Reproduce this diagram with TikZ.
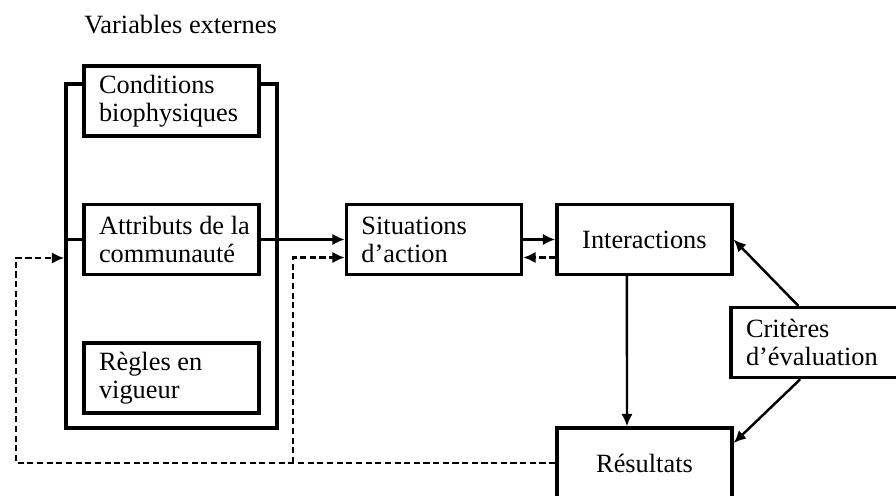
\documentclass[tikz,border=0pt]{standalone}
\usepackage{fontspec}
\setmainfont{Liberation Serif}
\usetikzlibrary{arrows.meta,positioning}

\begin{document}
\begin{tikzpicture}[
    x=0.02cm, y=-0.02cm,
    font=\fontsize{15}{16}\selectfont,
    block/.style={rectangle, draw, fill=white, line width=2pt, minimum width=3.5cm, minimum height=1.4cm, text width=2.9cm, inner xsep=0.3cm, align=flush left},
    cblock/.style={block, align=flush center},
    frame/.style={rectangle, draw, line width=2pt, minimum width=4.22cm, minimum height=6.88cm},
    line/.style={draw, line width=1.4pt, -{Latex[length=7pt,width=6.5pt]}},
    link/.style={draw, line width=1.4pt},
    back/.style={line, dash pattern=on 3.5pt off 2pt}
]
    \useasboundingbox (0,0) rectangle (896,495);
    \clip (0,0) rectangle (896,495);

    % External variables
    \node [anchor=base west, inner sep=0pt] (titre) at (84,33) {Variables externes};
    \node [frame] (vext) at (171.5,256) {};
    \node [block] (cond) at (171.5,101) {Conditions\\biophysiques};
    \node [block, below=1.3cm of cond] (attr) {\mbox{Attributs de la}\\communauté};
    \node [block, below=1.3cm of attr] (regles) {Règles en\\vigueur};

    % Action arena and outcomes
    \node [block, right=1.68cm of attr] (sit) {Situations\\d’action};
    \node [cblock, right=0.64cm of sit] (inter) {Interactions};
    \node [cblock] (res) at (644.5,463) {Résultats};
    \node [block] (crit) at (818.5,342.5) {Critères\\d’évaluation};

    % Connections
    \path [link] (vext.west |- attr.west) -- (attr.west);
    \path [line] (attr.east) -- (sit.west);
    \path [line] (sit.east) -- (inter.west);
    \path [back] ([yshift=-0.36cm]inter.west) -- ([yshift=-0.36cm]sit.east);
    \path [line] ([xshift=-0.35cm]inter.south) -- ([xshift=-0.35cm]res.north);
    \path [line] ([xshift=1.38cm]crit.north west) -- (inter.east);
    \path [line] ([xshift=1.42cm]crit.south west) -- ([yshift=0.4cm]res.east);

    % Feedback
    \coordinate (fbl) at (16,463);
    \coordinate (fbm) at (293,463);
    \path [back] (res.west) -- (fbl) |- ([yshift=-0.04cm]vext.west);
    \path [back] (fbm) |- ([yshift=-0.36cm]sit.west);

\end{tikzpicture}
\end{document}
